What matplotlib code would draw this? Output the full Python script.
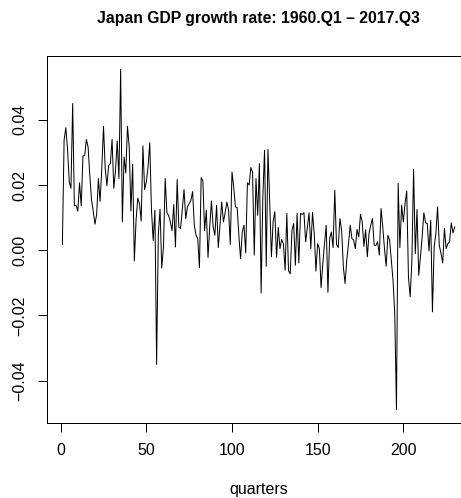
import numpy as np
import matplotlib
matplotlib.use("Agg")
import matplotlib.pyplot as plt

# quarterly GDP growth rate, Japan (230 quarters)
growth = [
    0.0018, 0.0338, 0.0376, 0.0310, 0.0210, 0.0190, 0.0450, 0.0136, 0.0138, 0.0120,
    0.0207, 0.0136, 0.0289, 0.0290, 0.0340, 0.0317, 0.0230, 0.0155, 0.0120, 0.0080,
    0.0110, 0.0220, 0.0150, 0.0250, 0.0380, 0.0250, 0.0198, 0.0260, 0.0266, 0.0340,
    0.0190, 0.0245, 0.0335, 0.0220, 0.0555, 0.0087, 0.0286, 0.0237, 0.0380, 0.0317,
    0.0120, 0.0264, -0.0033, 0.0092, 0.0160, 0.0143, 0.0090, 0.0320, 0.0186, 0.0210,
    0.0256, 0.0330, 0.0123, 0.0030, 0.0123, -0.0350, 0.0050, 0.0126, -0.0055, 0.0010,
    0.0220, 0.0115, 0.0107, 0.0087, 0.0060, 0.0140, 0.0010, 0.0217, 0.0070, 0.0067,
    0.0128, 0.0186, 0.0097, 0.0133, 0.0143, 0.0153, 0.0180, 0.0077, 0.0046, 0.0036,
    -0.0053, 0.0223, 0.0213, 0.0060, 0.0123, -0.0022, 0.0072, 0.0151, 0.0072, 0.0046,
    0.0138, 0.0008, 0.0077, 0.0148, 0.0087, 0.0115, 0.0148, 0.0123, 0.0018, 0.0240,
    0.0194, 0.0133, 0.0131, 0.0046, -0.0026, 0.0056, 0.0077, -0.0008, 0.0207, 0.0200,
    0.0254, 0.0240, -0.0015, 0.0220, 0.0107, 0.0266, -0.0131, 0.0164, 0.0307, -0.0049,
    0.0309, 0.0150, -0.0020, 0.0087, 0.0118, -0.0022, 0.0070, 0.0005, 0.0033, 0.0020,
    -0.0061, 0.0113, -0.0063, -0.0072, 0.0061, 0.0082, -0.0046, 0.0113, -0.0039, 0.0113,
    0.0110, 0.0115, 0.0026, 0.0072, 0.0115, 0.0005, 0.0116, 0.0051, -0.0064, 0.0020,
    0.0005, -0.0115, -0.0041, 0.0020, 0.0077, -0.0129, 0.0036, 0.0056, 0.0008, 0.0184,
    0.0018, 0.0008, 0.0097, 0.0061, -0.0051, -0.0102, -0.0029, 0.0020, 0.0077, 0.0036,
    0.0031, 0.0005, 0.0064, 0.0041, 0.0110, 0.0087, 0.0012, 0.0063, -0.0020, 0.0053,
    0.0077, 0.0097, 0.0015, 0.0015, 0.0026, -0.0015, 0.0128, 0.0072, 0.0005, -0.0049,
    0.0046, 0.0031, -0.0031, -0.0092, -0.0194, -0.0489, 0.0205, 0.0008, 0.0138, 0.0087,
    0.0143, 0.0182, -0.0082, -0.0143, -0.0031, 0.0248, -0.0010, 0.0125, -0.0077, -0.0020,
    0.0041, 0.0115, 0.0084, 0.0082, -0.0002, 0.0092, -0.0189, 0.0010, 0.0051, 0.0133,
    0.0015, -0.0010, -0.0039, 0.0067, 0.0005, 0.0020, 0.0026, 0.0084, 0.0053, 0.0072,
]
quarters = np.arange(1, len(growth) + 1)

x_ticks = [0, 50, 100, 150, 200]
y_ticks = [-0.04, -0.02, 0.00, 0.02, 0.04]

plt.rcParams["font.family"] = ["Liberation Sans", "DejaVu Sans"]

W, H = 461, 498
fig = plt.figure(figsize=(W / 72, H / 72), dpi=72)
# plot box is cut off by the right edge of the image, like the reference
ax = fig.add_axes([46.7 / W, 74.7 / H, (470.4 - 46.7) / W, (423.3 - 55.7) / H])

ax.plot(quarters, growth, color="black", linewidth=1.0)
ax.margins(x=0.04, y=0.04)

ax.set_xticks(x_ticks)
ax.set_xticklabels([str(t) for t in x_ticks])
ax.set_yticks(y_ticks)
ax.set_yticklabels([("%.2f" % v).replace("-", "\u2212") for v in y_ticks],
                   rotation=90, va="center")

for s in ax.spines.values():
    s.set_linewidth(1.0)
ax.tick_params(axis="both", direction="out", length=9, width=1.0, labelsize=16)
ax.tick_params(axis="x", pad=11)
ax.tick_params(axis="y", pad=10)

ax.set_xlabel("quarters", fontsize=16, labelpad=24)
fig.text(258.6 / W, 1 - 18 / H, "Japan GDP growth rate: 1960.Q1 \u2013 2017.Q3",
         ha="center", va="center", fontsize=15.7, fontweight="bold")

fig.savefig("out.png", dpi=72)
